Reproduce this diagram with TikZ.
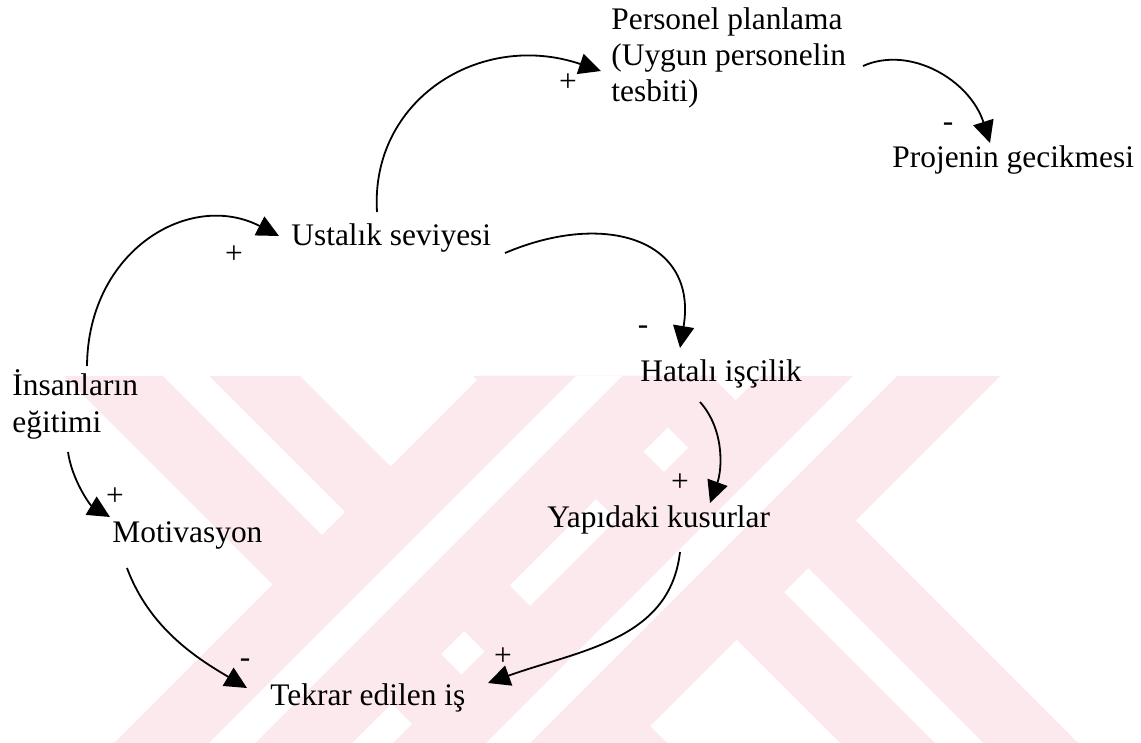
\documentclass[tikz,border=0pt]{standalone}
\usepackage{fontspec}
\setmainfont{Liberation Serif}
\usetikzlibrary{arrows.meta,calc}
\definecolor{wmpink}{RGB}{252,233,237}
\tikzset{
  lbl/.style={font=\fontsize{15.7}{18.2}\selectfont, inner sep=0pt, anchor=base west, align=left},
  sgn/.style={font=\fontsize{15.7}{18.2}\selectfont, inner sep=0pt},
  link/.style={line width=0.9pt, -{Triangle[length=11pt,width=10.5pt]}},
}
\begin{document}
\begin{tikzpicture}[x=0.5pt,y=-0.5pt]
\useasboundingbox (0,0) rectangle (1141,743);
\fill[white] (0,0) rectangle (1141,743);

% striped background emblem in the lower half
\begin{scope}
  \clip (0,376) rectangle (1141,743);
  % falling bands (x - y constant)
  \foreach \a/\b/\ga/\gb in {-312/-76/-213/-167, 97/335/192/240} {
    \fill[wmpink] ({\a+376},376) -- ({\b+376},376) -- ({\b+743},743) -- ({\a+743},743) -- cycle;
    \fill[white] ({\ga+376},376) -- ({\gb+376},376) -- ({\gb+743},743) -- ({\ga+743},743) -- cycle;
  }
  % rising bands (x + y constant), laid over the falling ones
  \foreach \a/\b/\ga/\gb in {857/1095/952/998, 1136/1376/1229/1273} {
    \fill[wmpink] ({\a-376},376) -- ({\b-376},376) -- ({\b-743},743) -- ({\a-743},743) -- cycle;
    \fill[white] ({\ga-376},376) -- ({\gb-376},376) -- ({\gb-743},743) -- ({\ga-743},743) -- cycle;
  }
\end{scope}

% variables (multi-line nodes sit on the baseline of their last line)
\node[lbl] (pers) at (611,102) {Personel planlama\\(Uygun personelin\\tesbiti)};
\node[lbl] (proj) at (892,168) {Projenin gecikmesi};
\node[lbl] (ust)  at (291,246) {Ustalık seviyesi};
\node[lbl] (hata) at (640,381) {Hatalı işçilik};
\node[lbl] (ins)  at (12,432)  {İnsanların\\eğitimi};
\node[lbl] (mot)  at (112,542) {Motivasyon};
\node[lbl] (yap)  at (547,527) {Yapıdaki kusurlar};
\node[lbl] (tek)  at (270,705) {Tekrar edilen iş};

% causal links
\draw[link] ($(ins.base west)+(75,-66)$) .. controls (88,250) and (190,190) .. ($(ust.base west)+(-12,-10)$);
\draw[link] ($(ust.base west)+(86,-34)$) .. controls (370,100) and (480,30) .. ($(pers.base west)+(-10,-31)$);
\draw[link] ($(pers.base west)+(252,-36)$) .. controls (910,45) and (970,80) .. ($(proj.base west)+(98,-25)$);
\draw[link] ($(ust.base west)+(214,7)$) .. controls (606,210) and (698,240) .. ($(hata.base west)+(40,-33)$);
\draw[link] ($(hata.base west)+(60,21)$) .. controls (725,430) and (722,470) .. ($(yap.base west)+(163,-24)$);
\draw[link] ($(yap.base west)+(133,25)$) .. controls (670,640) and (580,650) .. ($(tek.base west)+(218,-22)$);
\draw[link] ($(ins.base west)+(56,20)$) .. controls (72,480) and (90,505) .. ($(mot.base west)+(-2,-25)$);
\draw[link] ($(mot.base west)+(15,26)$) .. controls (150,630) and (200,660) .. ($(tek.base west)+(-23,-17)$);

% polarity signs
\node[sgn] (s1) at (234,255) {+};
\node[sgn] (s2) at (568,83)  {+};
\node[sgn] (s3) at (948,127) {-};
\node[sgn] (s4) at (643,330) {-};
\node[sgn] (s5) at (680,483) {+};
\node[sgn] (s6) at (503,657) {+};
\node[sgn] (s7) at (115,497) {+};
\node[sgn] (s8) at (245,663) {-};
\end{tikzpicture}
\end{document}
